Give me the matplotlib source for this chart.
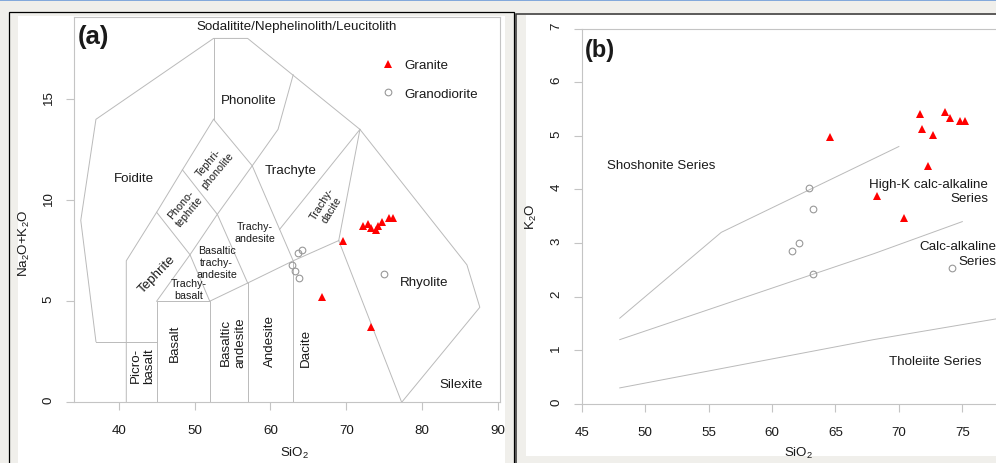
import matplotlib
matplotlib.use("Agg")
import matplotlib.pyplot as plt
from matplotlib.patches import Rectangle
from matplotlib.lines import Line2D
from matplotlib.transforms import ScaledTranslation

plt.rcParams['font.family'] = ['Liberation Sans', 'DejaVu Sans']
plt.rcParams['font.size'] = 9.6
plt.rcParams['mathtext.fontset'] = 'custom'
plt.rcParams['mathtext.rm'] = 'Liberation Sans'
plt.rcParams['mathtext.it'] = 'Liberation Sans:italic'
plt.rcParams['mathtext.bf'] = 'Liberation Sans:bold'

# --- sample data -------------------------------------------------------
# TAS (anhydrous) SiO2 vs Na2O+K2O
gr_sio2_tas = [72.25, 72.9, 73.22, 73.92, 74.22, 74.67, 75.67, 76.2, 69.6, 66.8, 73.2]
gr_alk = [8.71, 8.83, 8.61, 8.54, 8.71, 8.91, 9.11, 9.11, 7.97, 5.23, 3.74]
gd_sio2_tas = [63.6, 64.1, 62.9, 63.2, 63.8, 75.0]
gd_alk = [7.39, 7.55, 6.81, 6.49, 6.15, 6.35]

# SiO2 vs K2O
gr_sio2 = [64.6, 71.7, 71.8, 72.7, 73.6, 74.0, 74.8, 75.2, 72.3, 68.3, 70.4]
gr_k2o = [4.98, 5.41, 5.13, 5.01, 5.44, 5.34, 5.28, 5.28, 4.44, 3.87, 3.46]
gd_sio2 = [62.9, 63.2, 62.1, 61.6, 63.2, 74.2]
gd_k2o = [4.03, 3.64, 3.0, 2.85, 2.43, 2.54]

# --- TAS field boundaries (Le Bas et al. 1986) ---------------------------
tas_lines = [
    ([41, 41, 45, 48.4, 52.5], [0, 7, 9.4, 11.5, 14]),
    ([45, 45, 52, 52], [0, 5, 5, 0]),
    ([45, 49.4, 53, 57.6, 61, 63], [5, 7.3, 9.3, 11.7, 13.5, 16.2]),
    ([52, 57, 63, 69], [5, 5.9, 7, 8]),
    ([57, 57], [0, 5.9]),
    ([63, 63], [0, 7]),
    ([45, 49.4, 52], [9.4, 7.3, 5]),
    ([48.4, 53, 57], [11.5, 9.3, 5.9]),
    ([52.5, 57.6, 63], [14, 11.7, 7]),
    ([37, 45], [3, 3]),
    ([37, 35, 37, 52.5, 57, 71.8, 85.9, 87.6, 77.3], [3, 9, 14, 18, 18, 13.5, 6.8, 4.7, 0]),
    ([52.5, 52.5], [14, 18]),
    ([69, 71.8], [8, 13.5]),
    ([69, 77.3], [8, 0]),
    ([61.2, 71.8], [8.55, 13.5]),
]

tas_labels = [
    # text, x, y, size, rotation
    ("Sodalitite/Nephelinolith/Leucitolith", 63.5, 18.6, 9.6, 0),
    ("Phonolite", 57.2, 14.95, 9.6, 0),
    ("Foidite", 42.0, 11.09, 9.6, 0),
    ("Trachyte", 62.7, 11.5, 9.6, 0),
    ("Tephri-\nphonolite", 52.48, 11.7, 7.7, 50),
    ("Phono-\ntephrite", 48.74, 9.64, 7.7, 50),
    ("Trachy-\nandesite", 58.0, 8.41, 7.7, 0),
    ("Basaltic\ntrachy-\nandesite", 52.92, 6.92, 7.7, 0),
    ("Trachy-\nbasalt", 49.18, 5.6, 7.7, 0),
    ("Trachy-\ndacite", 67.42, 9.72, 7.7, 58),
    ("Tephrite", 45.0, 6.35, 9.6, 46),
    ("Picro-\nbasalt", 43.14, 1.86, 9.6, 90),
    ("Basalt", 47.42, 2.97, 9.6, 90),
    ("Basaltic\nandesite", 55.09, 3.0, 9.6, 90),
    ("Andesite", 59.94, 3.1, 9.6, 90),
    ("Dacite", 64.69, 2.72, 9.6, 90),
    ("Rhyolite", 80.27, 5.97, 9.6, 0),
    ("Silexite", 85.17, 0.9, 9.6, 0),
]

# --- K2O-SiO2 series boundaries (Peccerillo & Taylor 1976) --------------
pt_lines = [
    ([48, 68, 78], [0.3, 1.2, 1.6]),
    ([48, 68, 75], [1.2, 2.8, 3.4]),
    ([48, 56, 70], [1.6, 3.2, 4.8]),
]

W, H = 996, 464
bg = '#f0efeb'
line_col = '#bababa'
frame_col = '#c4c4c4'
txt_col = '#1a1a1a'


def box(px0, py0, px1, py1):
    # pixel box (top-left origin) -> figure fraction rect
    return [px0 / W, 1 - py1 / H, (px1 - px0) / W, (py1 - py0) / H]


def panel(px0, py0, px1, py1, **kw):
    r = box(px0, py0, px1, py1)
    fig.add_artist(Rectangle(r[:2], r[2], r[3], transform=fig.transFigure, zorder=-10, **kw))


fig = plt.figure(figsize=(W / 100, H / 100), dpi=100, facecolor=bg)

# window chrome: blue strip and the two framed panels
fig.add_artist(Line2D([0, 1], [1 - 0.6 / H, 1 - 0.6 / H], color='#6f9bd8', lw=1.2, zorder=-10))
panel(17.5, 17, 505, 470, fc='white', ec='none')
panel(8.5, 12.5, 513.5, 480, fc='none', ec='black', lw=0.9)
panel(526, 16, 1010, 457, fc='white', ec='none')
panel(516.3, 15, 1010, 480, fc='none', ec='#333333', lw=1.1)


def style_axes(ax, yticks):
    ax.set_facecolor('none')
    for s in ax.spines.values():
        s.set_color(frame_col)
        s.set_linewidth(0.8)
    ax.tick_params(direction='out', length=5.5, width=0.8, color=frame_col,
                   labelcolor=txt_col, labelsize=9.6, pad=10)
    ax.tick_params(axis='y', labelrotation=90, pad=8.5)
    ax.set_yticks(yticks)
    # rotated y labels sit a little above their ticks
    up = ScaledTranslation(0, 3 / 100, fig.dpi_scale_trans)
    for tk in ax.yaxis.get_major_ticks():
        tk.label1.set_va('center')
        tk.label1.set_transform(tk.label1.get_transform() + up)


# ---------------- (a) TAS ----------------
ax1 = fig.add_axes(box(74, 18, 500, 403.3))
for xs, ys in tas_lines:
    ax1.plot(xs, ys, color=line_col, lw=0.7, solid_joinstyle='miter')
for t, x, y, s, rot in tas_labels:
    ax1.text(x, y, t, fontsize=s, rotation=rot, ha='center', va='center',
             color=txt_col, linespacing=1.25, rotation_mode='anchor')
ax1.plot(gd_sio2_tas, gd_alk, 'o', mfc='none', mec='#999999', mew=0.8, ms=4.8, label='Granodiorite')
ax1.plot(gr_sio2_tas, gr_alk, '^', color='red', ms=6.4, mew=0, label='Granite')
ax1.set_xlim(34.107, 90.26)
ax1.set_ylim(0, 19.06)
ax1.set_xticks([40, 50, 60, 70, 80, 90])
style_axes(ax1, [0, 5, 10, 15])
ax1.text(34.6, 18.1, "(a)", fontsize=18.5, fontweight='bold', va='center', ha='left', color=txt_col)
h, l = ax1.get_legend_handles_labels()
ax1.legend(h[::-1], l[::-1], loc='upper left', bbox_to_anchor=((380.9 - 74) / 426, (403.3 - 60) / 385.3),
           frameon=False, handlelength=1.0, handletextpad=0.75, labelspacing=1.2,
           borderpad=0, borderaxespad=0, fontsize=9.6, labelcolor=txt_col)
fig.text(295 / W, 1 - 453.3 / H, r'SiO$_2$', ha='center', va='center', color=txt_col)
fig.text(24 / W, 1 - 243.5 / H, r'Na$_2$O+K$_2$O', ha='center', va='center', rotation=90, color=txt_col)

# ---------------- (b) K2O vs SiO2 ----------------
ax2 = fig.add_axes(box(581.7, 29.5, 1000, 405))
ax2.spines['right'].set_visible(False)
for xs, ys in pt_lines:
    ax2.plot(xs, ys, color=line_col, lw=0.7)
ax2.plot(gd_sio2, gd_k2o, 'o', mfc='none', mec='#999999', mew=0.8, ms=4.8)
ax2.plot(gr_sio2, gr_k2o, '^', color='red', ms=6.4, mew=0)
ax2.set_xlim(45, 77.97)
ax2.set_ylim(0, 7)
ax2.set_xticks([45, 50, 55, 60, 65, 70, 75])
style_axes(ax2, list(range(8)))
ax2.text(45.24, 6.6, "(b)", fontsize=17, fontweight='bold', va='center', ha='left', color=txt_col)
ax2.text(47.02, 4.46, "Shoshonite Series", ha='left', va='center', color=txt_col)
ax2.text(77.03, 3.97, "High-K calc-alkaline\nSeries", ha='right', va='center', color=txt_col,
         multialignment='right', linespacing=1.3)
ax2.text(77.66, 2.80, "Calc-alkaline\nSeries", ha='right', va='center', color=txt_col,
         multialignment='right', linespacing=1.3)
ax2.text(72.87, 0.81, "Tholeiite Series", ha='center', va='center', color=txt_col)
fig.text(798.3 / W, 1 - 453.3 / H, r'SiO$_2$', ha='center', va='center', color=txt_col)
fig.text(531.7 / W, 1 - 216.7 / H, r'K$_2$O', ha='center', va='center', rotation=90, color=txt_col)

fig.savefig('out.png', dpi=100, facecolor=bg)
